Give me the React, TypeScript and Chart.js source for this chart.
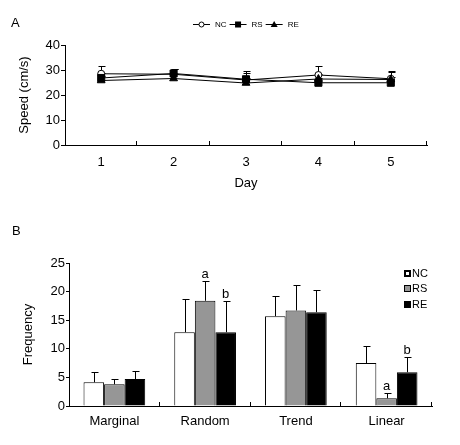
import React, { useEffect, useRef } from 'react';
import { Chart, registerables } from 'chart.js';

Chart.register(...registerables);

const FONT = "'Liberation Sans', Arial, Helvetica, sans-serif";

// ---------- Panel A data ----------
const days = ['1', '2', '3', '4', '5'];
const ncSpeed = [28.5, 28.3, 26.0, 28.0, 26.5];
const ncSpeedErr = [3.0, 2.0, 3.0, 3.5, 3.0];
const rsSpeed = [26.8, 28.6, 26.3, 24.9, 24.9];
const rsSpeedErr = [2.0, 2.0, 3.2, 2.0, 2.5];
const reSpeed = [25.8, 26.6, 24.8, 26.4, 26.2];
const reSpeedErr = [2.0, 2.0, 2.0, 2.0, 3.0];

// ---------- Panel B data ----------
const categories = ['Marginal', 'Random', 'Trend', 'Linear'];
const ncFreq = [4.15, 12.9, 15.7, 7.5];
const ncFreqErr = [1.75, 5.8, 3.5, 3.0];
const rsFreq = [3.8, 18.4, 16.7, 1.35];
const rsFreqErr = [0.9, 3.5, 4.5, 0.85];
const reFreq = [4.7, 12.9, 16.4, 5.9];
const reFreqErr = [1.4, 5.4, 3.9, 2.6];
const ncMarks = ['', '', '', ''];
const rsMarks = ['', 'a', '', 'a'];
const reMarks = ['', 'b', '', 'b'];

const seriesNames = ['NC', 'RS', 'RE'];
const barColors = ['#ffffff', '#969696', '#000000'];

function drawErrorBars(chart: any, capHalf: number) {
  const ctx = chart.ctx;
  const yScale = chart.scales.y;
  ctx.save();
  ctx.strokeStyle = '#000';
  ctx.lineWidth = 1;
  chart.data.datasets.forEach((ds: any, i: number) => {
    const meta = chart.getDatasetMeta(i);
    (ds.errors || []).forEach((err: number, j: number) => {
      const el = meta.data[j];
      if (!el) return;
      const x = Math.round(el.x) + 0.5;
      const y0 = yScale.getPixelForValue(ds.data[j]);
      const y1 = Math.round(yScale.getPixelForValue(ds.data[j] + err)) + 0.5;
      ctx.beginPath();
      ctx.moveTo(x, y0);
      ctx.lineTo(x, y1);
      ctx.moveTo(x - capHalf, y1);
      ctx.lineTo(x + capHalf + 1, y1);
      ctx.stroke();
    });
  });
  ctx.restore();
}

function drawInnerXTicks(chart: any, len: number) {
  const ctx = chart.ctx;
  const xs = chart.scales.x;
  const n = chart.data.labels.length;
  const step = (xs.right - xs.left) / n;
  const b = chart.chartArea.bottom;
  ctx.save();
  ctx.strokeStyle = '#000';
  ctx.lineWidth = 1;
  for (let i = 1; i <= n; i++) {
    const x = Math.round(xs.left + i * step) - 0.5;
    ctx.beginPath();
    ctx.moveTo(x, b);
    ctx.lineTo(x, b - len);
    ctx.stroke();
  }
  ctx.restore();
}

const lineExtras = {
  id: 'lineExtras',
  beforeDatasetsDraw(chart: any) {
    drawErrorBars(chart, 3);
  },
  afterDraw(chart: any) {
    drawInnerXTicks(chart, 4);
    const ctx = chart.ctx;
    ctx.save();
    ctx.fillStyle = '#000';
    ctx.font = `13px ${FONT}`;
    ctx.textAlign = 'left';
    ctx.textBaseline = 'middle';
    ctx.fillText('A', 11, 23);
    // legend
    ctx.font = `8px ${FONT}`;
    const lineLen = 17;
    const gapText = 5;
    const gapItem = 3;
    const widths = seriesNames.map((s) => ctx.measureText(s).width);
    const total = widths.reduce((a, w) => a + lineLen + gapText + w, 0) + gapItem * (seriesNames.length - 1);
    const ca = chart.chartArea;
    let x = Math.round((ca.left + ca.right) / 2 - total / 2);
    const y = 24.5;
    const styles = ['circle', 'rect', 'triangle'];
    seriesNames.forEach((name, i) => {
      ctx.strokeStyle = '#000';
      ctx.lineWidth = 1;
      ctx.beginPath();
      ctx.moveTo(x, y);
      ctx.lineTo(x + lineLen, y);
      ctx.stroke();
      const cx = x + lineLen / 2;
      ctx.beginPath();
      if (styles[i] === 'circle') {
        ctx.arc(cx, y, 2.5, 0, Math.PI * 2);
        ctx.fillStyle = '#fff';
        ctx.fill();
        ctx.stroke();
      } else if (styles[i] === 'rect') {
        ctx.fillStyle = '#000';
        ctx.fillRect(cx - 3, y - 3, 6, 6);
      } else {
        ctx.fillStyle = '#000';
        ctx.moveTo(cx, y - 3.5);
        ctx.lineTo(cx + 3.5, y + 2.5);
        ctx.lineTo(cx - 3.5, y + 2.5);
        ctx.closePath();
        ctx.fill();
      }
      ctx.fillStyle = '#000';
      ctx.textBaseline = 'middle';
      ctx.fillText(name, x + lineLen + gapText, y + 0.5);
      x += lineLen + gapText + widths[i] + gapItem;
    });
    ctx.restore();
  },
};

const barExtras = {
  id: 'barExtras',
  afterDatasetsDraw(chart: any) {
    drawErrorBars(chart, 3);
    const ctx = chart.ctx;
    const yScale = chart.scales.y;
    ctx.save();
    ctx.fillStyle = '#000';
    ctx.font = `13px ${FONT}`;
    ctx.textAlign = 'center';
    ctx.textBaseline = 'alphabetic';
    chart.data.datasets.forEach((ds: any, i: number) => {
      const meta = chart.getDatasetMeta(i);
      (ds.marks || []).forEach((m: string, j: number) => {
        if (!m) return;
        const el = meta.data[j];
        const top = yScale.getPixelForValue(ds.data[j] + ds.errors[j]);
        ctx.fillText(m, el.x, top - 3);
      });
    });
    ctx.restore();
  },
  afterDraw(chart: any) {
    drawInnerXTicks(chart, 4);
    const ctx = chart.ctx;
    const ca = chart.chartArea;
    ctx.save();
    ctx.fillStyle = '#000';
    ctx.font = `13px ${FONT}`;
    ctx.textAlign = 'left';
    ctx.textBaseline = 'middle';
    ctx.fillText('B', 12, 31);
    // legend
    ctx.font = `11px ${FONT}`;
    const bx = Math.round(ca.right) - 28;
    const rows = [9.5, 25, 40.5];
    seriesNames.forEach((name, i) => {
      const cy = Math.round(ca.top + rows[i]);
      ctx.fillStyle = '#000';
      ctx.fillRect(bx, cy - 3, 7, 7);
      if (i === 0) {
        ctx.fillStyle = barColors[0];
        ctx.fillRect(bx + 2, cy - 1, 3, 3);
      } else if (i === 1) {
        ctx.fillStyle = barColors[1];
        ctx.fillRect(bx + 1, cy - 2, 5, 5);
      }
      ctx.fillStyle = '#000';
      ctx.fillText(name, bx + 8, cy + 1);
    });
    ctx.restore();
  },
};

export default function App() {
  const refA = useRef<HTMLCanvasElement>(null);
  const refB = useRef<HTMLCanvasElement>(null);

  useEffect(() => {
    Chart.defaults.color = '#000';
    Chart.defaults.font.family = FONT;

    const chartA = new Chart(refA.current as HTMLCanvasElement, {
      type: 'line',
      data: {
        labels: days,
        datasets: [
          {
            label: 'NC',
            data: ncSpeed,
            errors: ncSpeedErr,
            order: 3,
            borderColor: '#000',
            borderWidth: 1,
            pointStyle: 'circle',
            pointRadius: 3.5,
            pointBackgroundColor: '#fff',
            pointBorderColor: '#000',
            pointBorderWidth: 1,
          } as any,
          {
            label: 'RS',
            data: rsSpeed,
            errors: rsSpeedErr,
            order: 1,
            borderColor: '#000',
            borderWidth: 1,
            pointStyle: 'rect',
            pointRadius: 5,
            pointBackgroundColor: '#000',
            pointBorderColor: '#000',
            pointBorderWidth: 1,
          } as any,
          {
            label: 'RE',
            data: reSpeed,
            errors: reSpeedErr,
            order: 2,
            borderColor: '#000',
            borderWidth: 1,
            pointStyle: 'triangle',
            pointRadius: 4.5,
            pointBackgroundColor: '#000',
            pointBorderColor: '#000',
            pointBorderWidth: 1,
          } as any,
        ],
      },
      options: {
        responsive: false,
        animation: false,
        devicePixelRatio: 1,
        layout: { padding: { top: 45, right: 33, bottom: 5, left: 0 } },
        plugins: { legend: { display: false }, tooltip: { enabled: false } },
        scales: {
          x: {
            type: 'category',
            offset: true,
            grid: { display: false, drawTicks: false },
            border: { display: true, color: '#000', width: 1 },
            ticks: { font: { size: 13, family: FONT }, color: '#000', padding: 10 },
            title: { display: true, text: 'Day', font: { size: 13, family: FONT }, color: '#000', padding: { top: 0, bottom: 4 } },
            afterFit: (s: any) => { s.height = 50; },
          },
          y: {
            min: 0,
            max: 40,
            ticks: { stepSize: 10, font: { size: 13, family: FONT }, color: '#000', padding: 1 },
            grid: { drawOnChartArea: false, drawTicks: true, tickLength: 4, color: '#000' },
            border: { display: true, color: '#000', width: 1 },
            title: { display: true, text: 'Speed (cm/s)', font: { size: 13, family: FONT }, color: '#000', padding: { top: 17, bottom: 0 } },
            afterFit: (s: any) => { s.width = 65; },
          },
        },
      } as any,
      plugins: [lineExtras],
    });

    const chartB = new Chart(refB.current as HTMLCanvasElement, {
      type: 'bar',
      data: {
        labels: categories,
        datasets: [
          { label: 'NC', data: ncFreq, errors: ncFreqErr, marks: ncMarks, backgroundColor: barColors[0], borderColor: '#000', borderWidth: 1 } as any,
          { label: 'RS', data: rsFreq, errors: rsFreqErr, marks: rsMarks, backgroundColor: barColors[1], borderColor: '#000', borderWidth: 1 } as any,
          { label: 'RE', data: reFreq, errors: reFreqErr, marks: reMarks, backgroundColor: barColors[2], borderColor: '#000', borderWidth: 1 } as any,
        ],
      },
      options: {
        responsive: false,
        animation: false,
        devicePixelRatio: 1,
        layout: { padding: { top: 63, right: 28, bottom: 0, left: 0 } },
        datasets: { bar: { categoryPercentage: 0.68, barPercentage: 1 } },
        plugins: { legend: { display: false }, tooltip: { enabled: false } },
        scales: {
          x: {
            grid: { display: false, drawTicks: false },
            border: { display: true, color: '#000', width: 1 },
            ticks: { font: { size: 13, family: FONT }, color: '#000', padding: 8 },
            afterFit: (s: any) => { s.height = 39; },
          },
          y: {
            min: 0,
            max: 25,
            ticks: { stepSize: 5, font: { size: 13, family: FONT }, color: '#000', padding: 1 },
            grid: { drawOnChartArea: false, drawTicks: true, tickLength: 3, color: '#000' },
            border: { display: true, color: '#000', width: 1 },
            title: { display: true, text: 'Frequency', font: { size: 13, family: FONT }, color: '#000', padding: { top: 21, bottom: 0 } },
            afterFit: (s: any) => { s.width = 69; },
          },
        },
      } as any,
      plugins: [barExtras],
    });

    return () => {
      chartA.destroy();
      chartB.destroy();
    };
  }, []);

  return (
    <div style={{ position: 'absolute', left: 0, top: 0, width: 460, height: 445, background: '#fff' }}>
      <canvas ref={refA} width={460} height={200} style={{ display: 'block' }} />
      <canvas ref={refB} width={460} height={245} style={{ display: 'block' }} />
    </div>
  );
}
